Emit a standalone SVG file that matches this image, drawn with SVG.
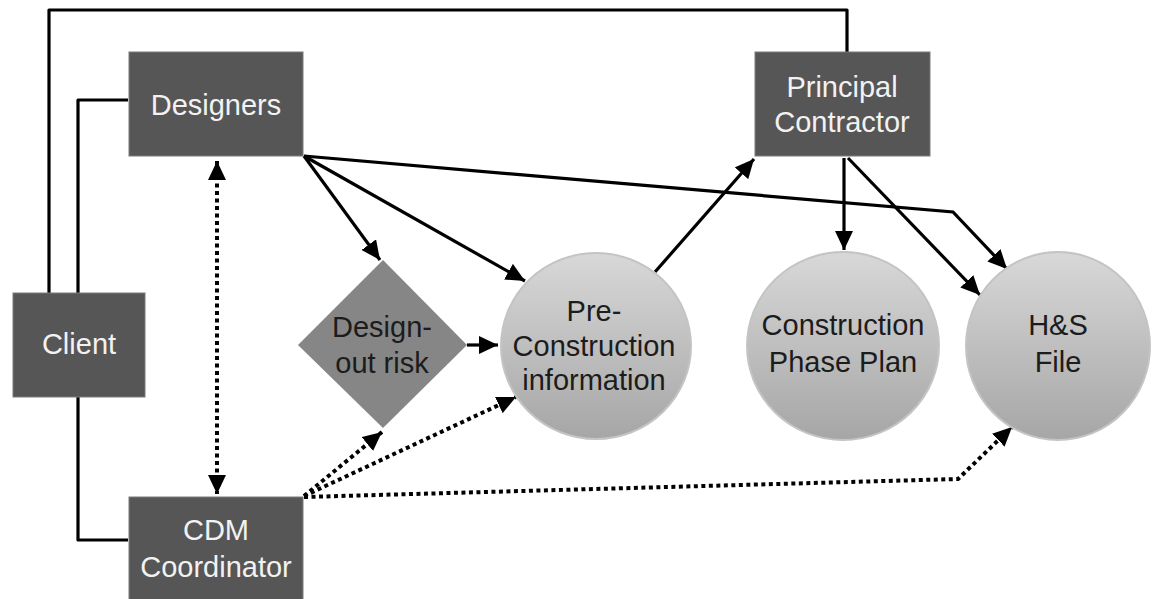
<svg xmlns="http://www.w3.org/2000/svg" width="1153" height="599" viewBox="0 0 1153 599">
<style>
.box{fill:#565656;stroke:#7a7a7a;stroke-width:1}
.bt{font-family:"Liberation Sans",Arial,sans-serif;font-size:29px;fill:#f2f2f2;text-anchor:middle}
.dt{font-family:"Liberation Sans",Arial,sans-serif;font-size:29px;fill:#1c1c1c;text-anchor:middle}
.ln{fill:none;stroke:#000;stroke-width:3.2;stroke-linejoin:round}
.ar{fill:none;stroke:#000;stroke-width:3.2;marker-end:url(#ah)}
.dot{fill:none;stroke:#000;stroke-width:4;stroke-dasharray:4 3.5;marker-end:url(#ah)}
.circ{fill:url(#cg);stroke:#c4c4c4;stroke-width:2}
</style>
<defs>
<marker id="ah" markerUnits="userSpaceOnUse" markerWidth="20" markerHeight="18" refX="19" refY="9" orient="auto-start-reverse">
<path d="M0,0 L19,9 L0,18 z" fill="#000"/>
</marker>
<linearGradient id="cg" x1="0" y1="0" x2="0" y2="1">
<stop offset="0" stop-color="#d8d8d8"/>
<stop offset="1" stop-color="#a6a6a6"/>
</linearGradient>
</defs>
<rect width="1153" height="599" fill="#fff"/>
<g id="connectors">
<polyline class="ln" points="49,293 49,10 847,10 847,52"/>
<polyline class="ln" points="128,100 78,100 78,293"/>
<polyline class="ln" points="78,397 78,540 128,540"/>
<line class="ar" x1="304" y1="156" x2="380" y2="260"/>
<line class="ar" x1="304" y1="156" x2="525" y2="281"/>
<polyline class="ar" points="304,156 953,212 1007,269"/>
<line class="ar" x1="467" y1="345" x2="498" y2="345"/>
<line class="ar" x1="655" y1="272" x2="754" y2="159"/>
<line class="ar" x1="844" y1="158" x2="844" y2="250"/>
<line class="ar" x1="848" y1="158" x2="980" y2="295"/>
<line class="dot" x1="217" y1="161" x2="217" y2="494" style="marker-start:url(#ah)"/>
<line class="dot" x1="304" y1="496" x2="382" y2="432"/>
<line class="dot" x1="304" y1="496" x2="516" y2="397"/>
<polyline class="dot" points="304,497 958,479 1012,427"/>
</g>
<g id="designers">
<rect class="box" x="129" y="52" width="174" height="104"/>
<text class="bt" x="216" y="115">Designers</text>
</g>
<g id="principal-contractor">
<rect class="box" x="755" y="52" width="175" height="104"/>
<text class="bt" x="842" y="97">Principal</text>
<text class="bt" x="842" y="132">Contractor</text>
</g>
<g id="client">
<rect class="box" x="13" y="293" width="132" height="104"/>
<text class="bt" x="79" y="354">Client</text>
</g>
<g id="cdm-coordinator">
<rect class="box" x="129" y="497" width="174" height="106"/>
<text class="bt" x="216" y="540">CDM</text>
<text class="bt" x="216" y="577">Coordinator</text>
</g>
<g id="design-out-risk">
<polygon points="383,260 467,345 383,428 298,345" fill="#868686"/>
<text class="dt" x="382" y="337">Design-</text>
<text class="dt" x="382" y="373">out risk</text>
</g>
<g id="pre-construction">
<ellipse class="circ" cx="596" cy="346" rx="95" ry="93"/>
<text class="dt" x="594" y="321">Pre-</text>
<text class="dt" x="594" y="356">Construction</text>
<text class="dt" x="594" y="390">information</text>
</g>
<g id="construction-phase-plan">
<ellipse class="circ" cx="843" cy="346" rx="96" ry="94"/>
<text class="dt" x="843" y="335">Construction</text>
<text class="dt" x="843" y="372">Phase Plan</text>
</g>
<g id="hs-file">
<ellipse class="circ" cx="1058" cy="346" rx="92" ry="94"/>
<text class="dt" x="1058" y="335">H&amp;S</text>
<text class="dt" x="1058" y="372">File</text>
</g>
</svg>
